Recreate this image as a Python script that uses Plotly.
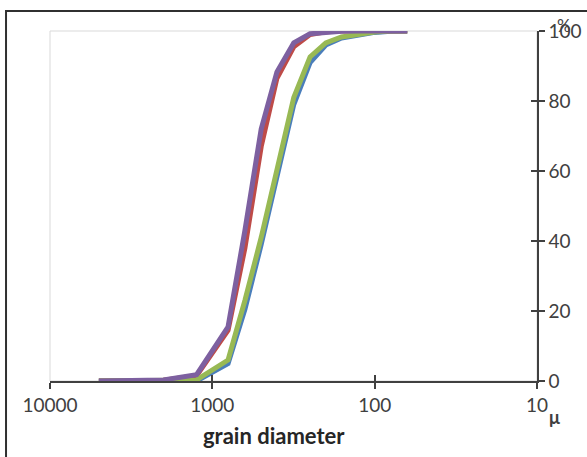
import plotly.graph_objects as go

# grain diameter (micron)
diameters = [5000, 2000, 1250, 800, 630, 500, 400, 315, 250, 200, 160, 125, 100, 80, 63]
series_names = ["Sample 1", "Sample 2", "Sample 3", "Sample 4"]
blue_vals = [0, 0, 0, 5, 20.5, 39, 58.5, 79, 91, 96, 98, 99, 99.6, 99.9, 100]
red_vals = [0, 0.2, 1.5, 14.5, 38, 67, 86.5, 95.5, 99, 99.8, 100, 100, 100, 100, 100]
green_vals = [0, 0, 0.3, 6, 23, 41, 61, 81, 92.6, 96.6, 98.3, 99.2, 99.7, 100, 100]
purple_vals = [0, 0.3, 1.8, 15.5, 43, 72, 88.3, 96.6, 99.2, 99.7, 99.9, 100, 100, 100, 100]
colors = ["#4A7EBB", "#BE4B48", "#98B954", "#7D60A0"]

x_tickvals = [10000, 1000, 100, 10]
x_ticktext = ["10000", "1000", "100", "10"]
y_tickvals = [0, 20, 40, 60, 80, 100]

FONT = "Lato"
TXT = "#404040"

fig = go.Figure()
for name, vals, col in zip(series_names, [blue_vals, red_vals, green_vals, purple_vals], colors):
    fig.add_trace(go.Scatter(x=diameters, y=vals, mode="lines", name=name,
                             line=dict(color=col, width=5), showlegend=False))

# dummy trace for overlay axes (inner half of crossing ticks)
fig.add_trace(go.Scatter(x=[100], y=[50], xaxis="x2", yaxis="y2", mode="markers",
                         marker=dict(opacity=0), showlegend=False, hoverinfo="skip"))

fig.update_layout(
    width=587, height=457,
    margin=dict(l=50, r=50, t=31, b=76),
    paper_bgcolor="white", plot_bgcolor="white",
    font=dict(family=FONT, size=19, color=TXT),
    xaxis=dict(type="log", range=[4, 1], tickvals=x_tickvals, ticktext=x_ticktext,
               ticks="outside", ticklen=6, tickwidth=1.5, tickcolor="#404040",
               showline=True, linecolor="#404040", linewidth=1.5, showgrid=False,
               zeroline=False, automargin=False,
               tickfont=dict(family=FONT, size=19, color=TXT)),
    yaxis=dict(range=[0, 100], tickvals=y_tickvals, side="right",
               ticks="outside", ticklen=6, tickwidth=1.5, tickcolor="#404040",
               showline=True, linecolor="#404040", linewidth=1.5, showgrid=False,
               zeroline=False, automargin=False,
               tickfont=dict(family=FONT, size=19, color=TXT)),
    xaxis2=dict(type="log", range=[4, 1], overlaying="x", anchor="y2", side="bottom",
                tickvals=x_tickvals, ticks="inside", ticklen=6, tickwidth=1.5,
                tickcolor="#404040", showticklabels=False, showline=False,
                showgrid=False, zeroline=False, automargin=False),
    yaxis2=dict(range=[0, 100], overlaying="y", anchor="x2", side="right",
                tickvals=y_tickvals, ticks="inside", ticklen=6, tickwidth=1.5,
                tickcolor="#404040", showticklabels=False, showline=False,
                showgrid=False, zeroline=False, automargin=False),
    shapes=[
        dict(type="rect", xref="paper", yref="paper", x0=0, x1=1, y0=0, y1=1,
             line=dict(color="#D9D9D9", width=1), layer="below"),
        dict(type="rect", xref="paper", yref="paper", x0=-0.0903, x1=1.15,
             y0=-0.3, y1=1.057, line=dict(color="#303030", width=2)),
    ],
    annotations=[
        dict(text="<b>grain diameter</b>", xref="paper", yref="paper",
             x=(274 - 50) / 487, y=(381 - 435) / 350, showarrow=False,
             xanchor="center", yanchor="middle",
             font=dict(family=FONT, size=22, color="#262626")),
        dict(text="<b>μ</b>", xref="paper", yref="paper", x=(547 - 50) / 487,
             y=(381 - 417) / 350, showarrow=False, xanchor="left", yanchor="middle",
             font=dict(family=FONT, size=18, color=TXT)),
        dict(text="%", xref="paper", yref="paper", x=(564 - 50) / 487,
             y=(381 - 25) / 350, showarrow=False, xanchor="center", yanchor="middle",
             font=dict(family=FONT, size=17, color=TXT)),
    ],
)

fig.write_html("out.html", config={"displayModeBar": False},
               post_script="document.body.style.margin='0';document.body.style.padding='0';")
